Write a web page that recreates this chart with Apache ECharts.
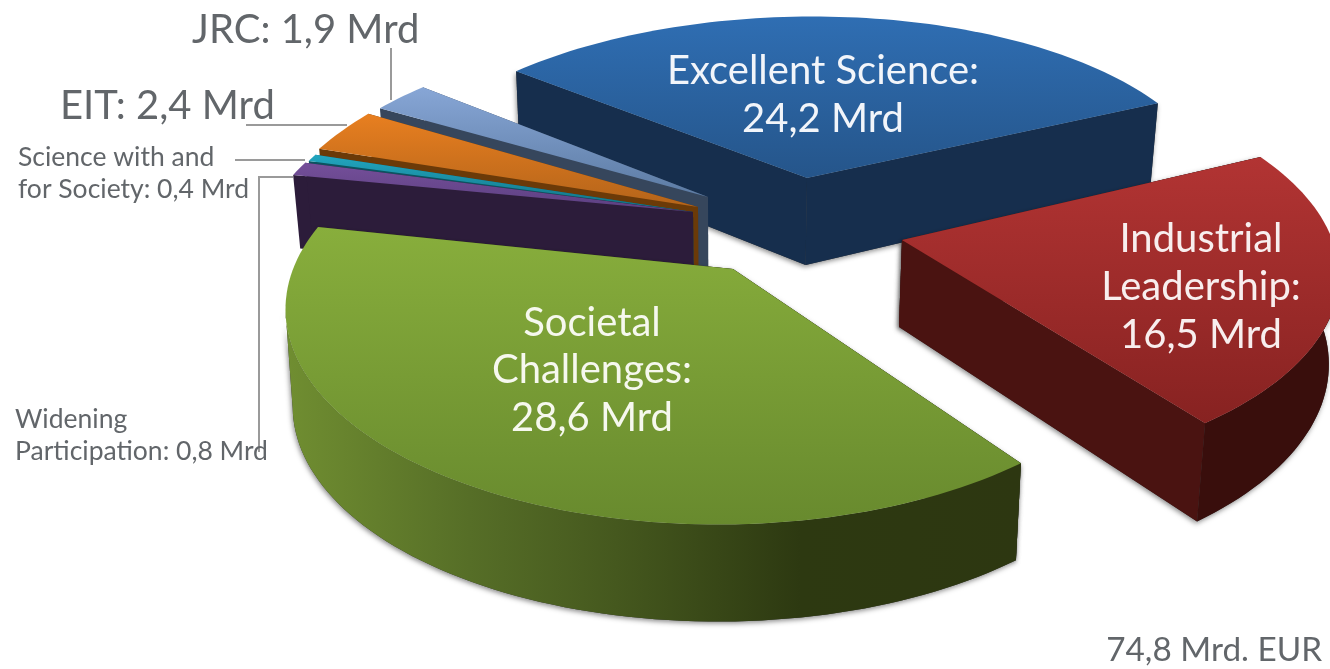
<!DOCTYPE html>
<html><head><meta charset="utf-8">
<script src="https://cdn.jsdelivr.net/npm/echarts@6/dist/echarts.min.js"></script>
<style>html,body{margin:0;padding:0;background:#fff}#c{width:1330px;height:669px;filter:blur(.5px)}</style>
</head><body><div id="c"></div>
<script>
// ---- data (clockwise, starting at Excellent Science)
var categories = ['Excellent Science', 'Industrial\nLeadership', 'Societal\nChallenges', 'Widening\nParticipation', 'Science with and\nfor Society', 'EIT', 'JRC'];
var values = [24.2, 16.5, 28.6, 0.8, 0.4, 2.4, 1.9];
var valueSeparators = ['\n', '\n', '\n', ' ', ' ', ' ', ' '];
var unit = 'Mrd';
var totalLabel = '74,8 Mrd. EUR';

// ---- layout: projection of the disc for each slice (pulled-out apex + affine ellipse)
var startAngle = 214.12, persp = 0.15, vanishX = 720, vanishK = 0.0165;
var apex = [[807,178],[902,240],[733,269],[693,212],[693,212],[698,207],[708,197]];
var proj = [[409,-41.5,13.2,187],[434,-14,11.5,202],[431,-29,14.7,212],[419,-56,12,195],[416,-60,12,205],[420,-71,12,209],[410,-54,17,187]];
var bulge = [-0.01, 0, 0.03, 0, 0, 0, 0];
var depth = [87, 87, 97, 75, 75, 75, 75];
var depthFollowsPerspective = [true, true, false, true, true, true, true];
var drawOrder = [0, 1, 6, 5, 4, 3, 2];
var topColors = [['#2f6eb3','#25558a'],['#b23433','#872221'],['#88ae3c','#688a2e'],['#744f9a','#5c3f80'],['#22a6c0','#107080'],['#e87f20','#b4641a'],['#87a6d6','#5c7ba3']];
var radialColors = ['#162e4d','#4a1311','#2d3811','#2c1c3a','#0b5360','#6b3a08','#36465c'];
var arcColors = ['#17324f','#390e0c',null,'#2c1c3a','#0b5360','#6b3a08','#36465c'];
var societalWall = [[0,'#708e31'],[0.25,'#566e27'],[0.45,'#45581e'],[0.7,'#2d3911'],[1,'#2d3711']];
var shadowed = [true,true,true,false,false,false,false];
var grey = '#62666a';
var labelStyle = [
  {x:823,y:95,size:40,lh:48,fill:'#f2f5fa',align:'center'},
  {x:1201,y:287,size:40,lh:48,fill:'#f8eeee',align:'center'},
  {x:592,y:370.5,size:40,lh:47.5,fill:'#f6f8ee',align:'center'},
  {x:15,y:435,size:26.5,lh:32,fill:grey,align:'left'},
  {x:18,y:173,size:26.5,lh:32,fill:grey,align:'left'},
  {x:60,y:106,size:40,lh:40,fill:grey,align:'left'},
  {x:192,y:30,size:40,lh:40,fill:grey,align:'left'}
];
var leaders = [null,null,null,[[293,177],[259,177],[259,452]],[[235,160],[305,160]],[[246,125],[347,125]],[[391,48],[391,100]]];

var total = values.reduce(function(a,b){return a+b;},0);
var starts = [], acc = startAngle;
values.forEach(function(v){starts.push(acc); acc += v/total*360;});

function topPoint(i, deg, u){
  var t = deg*Math.PI/180, c = Math.cos(t), s = Math.sin(t), m = proj[i];
  var k = 1/(1-persp*s), w = 1+bulge[i]*Math.sin(Math.PI*u);
  return [apex[i][0]+(m[0]*c+m[1]*s)*k*w, apex[i][1]+(m[2]*c+m[3]*s)*k*w, k, s, c];
}
function botPoint(i, p, d){
  return [p[0]-(p[0]-vanishX)*vanishK, p[1]+d*(depthFollowsPerspective[i]?p[2]:1)];
}
function renderItem(params, api){
  var v = api.value(0), i = api.value(1);
  var a0 = starts[i], a1 = a0 + v/total*360, n = Math.max(4, Math.ceil((a1-a0)/1.5));
  var arc = [];
  for (var j=0;j<=n;j++) arc.push(topPoint(i, a0+(a1-a0)*j/n, j/n));
  var ap = [apex[i][0], apex[i][1], 1];
  var d = depth[i];
  var apB = botPoint(i, ap, d);
  var first = arc[0], last = arc[n];
  var xy = function(p){return [p[0],p[1]];};
  var walls = [];
  var front = arc.filter(function(p){return p[3] > -0.06;});
  // the side wall ends where the rim turns away from the viewer on the left
  var leftmost = -1, minX = Infinity;
  front.forEach(function(p,idx){ if (p[4] < 0 && p[0] < minX) { minX = p[0]; leftmost = idx; } });
  if (leftmost >= 0) front = front.slice(0, leftmost+1);
  var wallFill = i===2 ? {type:'linear',x:0,y:0,x2:1,y2:0,colorStops:societalWall.map(function(s){return {offset:s[0],color:s[1]};})} : arcColors[i];
  walls.push({points:[xy(ap),xy(first),botPoint(i,first,d),apB],fill:radialColors[i]});
  walls.push({points:[xy(ap),xy(last),botPoint(i,last,d),apB],fill:radialColors[i]});
  if (front.length>1) walls.push({points:front.map(xy).concat(front.slice().reverse().map(function(p){return botPoint(i,p,d);})),fill:wallFill});
  var children = [];
  if (shadowed[i]) walls.forEach(function(w){
    children.push({type:'polygon',shape:{points:w.points},style:{fill:'#333',shadowColor:'rgba(0,0,0,0.45)',shadowBlur:5,shadowOffsetX:-1,shadowOffsetY:2}});
  });
  walls.forEach(function(w){children.push({type:'polygon',shape:{points:w.points},style:{fill:w.fill}});});
  children.push({type:'polygon',shape:{points:[xy(ap)].concat(arc.map(xy))},
    style:{fill:{type:'linear',x:0,y:0,x2:0,y2:1,colorStops:[{offset:0,color:topColors[i][0]},{offset:1,color:topColors[i][1]}]}}});
  var L = labelStyle[i];
  var valueText = v.toFixed(1).replace('.',',');
  children.push({type:'text',z2:50,style:{text:categories[i]+':'+valueSeparators[i]+valueText+' '+unit,x:L.x,y:L.y,
    fill:L.fill,font:'400 '+L.size+'px Lato',lineHeight:L.lh,align:L.align,verticalAlign:'middle'}});
  if (leaders[i]) children.push({type:'polyline',z2:40,shape:{points:leaders[i]},style:{fill:null,stroke:'#9a9a9a',lineWidth:2}});
  return {type:'group',children:children};
}
var chart = echarts.init(document.getElementById('c'),null,{renderer:'canvas'});
chart.setOption({
  animation:false,
  backgroundColor:'#fff',
  tooltip:{show:false},
  series:[{type:'custom',coordinateSystem:'none',silent:true,clip:false,renderItem:renderItem,
    encode:{value:0},
    data:drawOrder.map(function(i){return [values[i],i];})}],
  graphic:[{type:'text',right:8,top:634,style:{text:totalLabel,fill:grey,font:'400 33.3px Lato'}}]
});
</script></body></html>
